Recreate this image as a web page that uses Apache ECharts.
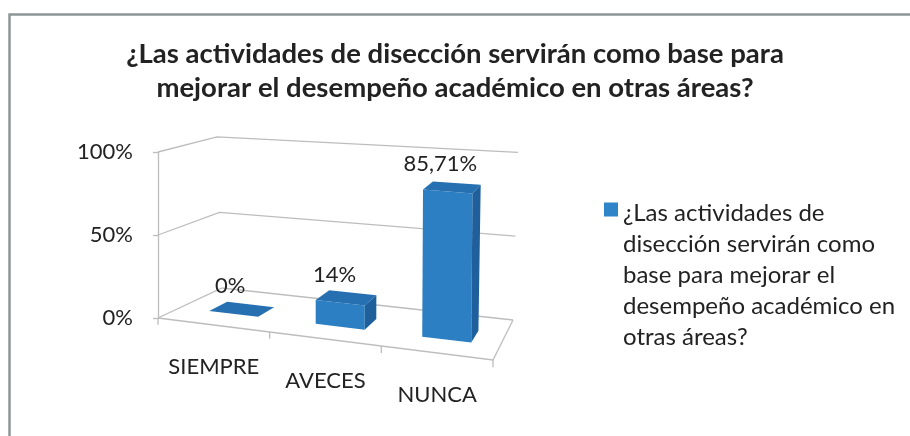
<!DOCTYPE html>
<html>
<head>
<meta charset="utf-8">
<title>Disección</title>
<script src="https://cdn.jsdelivr.net/npm/echarts@6/dist/echarts.min.js"></script>
<style>
  html, body { margin: 0; padding: 0; background: #fff; }
  #chart { width: 910px; height: 436px; }
</style>
</head>
<body>
<div id="chart"></div>
<script>
// datos
var categories = ['SIEMPRE', 'AVECES', 'NUNCA'];
var values = [0, 14.29, 85.71];
var valueLabels = ['0%', '14%', '85,71%'];
var yTicks = [0, 50, 100];
var yTickLabels = ['0%', '50%', '100%'];
var seriesName = '¿Las actividades de disección servirán como base para mejorar el desempeño académico en otras áreas?';
var legendLines = ['¿Las actividades de', 'disección servirán como', 'base para mejorar el', 'desempeño académico en', 'otras áreas?'];

// perspectiva 3D (estilo Excel)
var view = {
  drop: 42,             // el borde frontal del piso baja a la derecha
  depthL: [64, -30],    // profundidad del piso a la izquierda
  depthR: [20, -40],    // profundidad del piso a la derecha
  grow: [1, 1.08, 0.91, 1.01],  // alto relativo: frente-izq, frente-der, fondo-izq, fondo-der
  lean: [0, 0, -5, 5]
};
var gray = '#bdbdbd';
var font = 'Lato, "Open Sans", sans-serif';
var lineH = 31;

function lerp(a, b, t) {
  return [a[0] + (b[0] - a[0]) * t, a[1] + (b[1] - a[1]) * t];
}

// devuelve proj(i, f, v, d): categoria i (+ fraccion f de la banda), valor v, profundidad d (0 frente, 1 fondo)
function makeProj(api) {
  var n = categories.length;
  var band = api.size([1, 0])[0];
  var base = api.coord([0, 0]);
  var left = base[0] - band / 2;
  var W = band * n;
  var y0 = base[1];
  var H = y0 - api.coord([0, 100])[1];
  var FL = [left, y0], FR = [left + W, y0 + view.drop];
  var BL = [FL[0] + view.depthL[0], FL[1] + view.depthL[1]];
  var BR = [FR[0] + view.depthR[0], FR[1] + view.depthR[1]];
  var up = view.grow.map(function (g, k) { return [view.lean[k], -H * g]; });
  return function (i, f, v, d) {
    var c = api.coord([i, v]);
    var u = (c[0] + f * band - left) / W;
    var h = (y0 - c[1]) / H;
    var p = lerp(lerp(FL, FR, u), lerp(BL, BR, u), d);
    var q = lerp(lerp(up[0], up[1], u), lerp(up[2], up[3], u), d);
    return [p[0] + q[0] * h, p[1] + q[1] * h];
  };
}

function line(points) {
  return {
    type: 'polyline',
    shape: { points: points },
    style: { stroke: gray, lineWidth: 1.3, fill: null }
  };
}

// paredes, piso y lineas de division
function renderFrame(params, api) {
  var proj = makeProj(api);
  var n = categories.length;
  var kids = [];
  yTicks.forEach(function (t) {
    kids.push(line([proj(0, -0.5, t, 0), proj(0, -0.5, t, 1), proj(n - 1, 0.5, t, 1)]));
  });
  kids.push(line([proj(0, -0.5, 0, 0), proj(n - 1, 0.5, 0, 0), proj(n - 1, 0.5, 0, 1)]));
  for (var i = 0; i <= n; i++) {
    var ci = Math.min(i, n - 1), f = i < n ? -0.5 : 0.5;
    kids.push(line([proj(ci, f, 0, 0), proj(ci, f, -4, 0)]));
  }
  return { type: 'group', children: kids };
}

// columnas 3D
function renderBar(params, api) {
  var proj = makeProj(api);
  var i = api.value(0), v = api.value(1);
  var hw = 0.23, d0 = 0.35, d1 = 0.65;
  var fbl = proj(i, -hw, 0, d0), fbr = proj(i, hw, 0, d0);
  var ftl = proj(i, -hw, v, d0), ftr = proj(i, hw, v, d0);
  var bbr = proj(i, hw, 0, d1);
  var btl = proj(i, -hw, v, d1), btr = proj(i, hw, v, d1);
  var top = proj(i, 0, v, 0.5);
  var cat = proj(i, 0, 0, 0);
  return {
    type: 'group',
    children: [
      { type: 'polygon', shape: { points: [fbl, fbr, ftr, ftl] }, style: { fill: '#2b7fc2' } },
      { type: 'polygon', shape: { points: [fbr, bbr, btr, ftr] }, style: { fill: '#1e5f9c' } },
      { type: 'polygon', shape: { points: [ftl, ftr, btr, btl] }, style: { fill: '#2670b2' } },
      {
        type: 'text',
        style: {
          text: valueLabels[params.dataIndex], x: top[0] - 12, y: top[1] - 12,
          align: 'center', verticalAlign: 'bottom',
          font: '22px ' + font, fill: '#222'
        }
      },
      {
        type: 'text',
        style: {
          text: categories[params.dataIndex], x: cat[0], y: cat[1] + 42,
          align: 'center', verticalAlign: 'middle',
          font: '22px ' + font, fill: '#222'
        }
      }
    ]
  };
}

var chart = echarts.init(document.getElementById('chart'));
var option = {
  animation: false,
  backgroundColor: '#fff',
  title: {
    text: '¿Las actividades de disección servirán como base para\nmejorar el desempeño académico en otras áreas?',
    left: 'center',
    top: 32,
    textStyle: { fontFamily: font, fontWeight: 'bold', fontSize: 27.5, lineHeight: 34, color: '#222' }
  },
  graphic: [{
    type: 'rect',
    left: 7, top: 12,
    shape: { width: 920, height: 440 },
    style: { fill: null, stroke: '#8e9595', lineWidth: 2.5 },
    silent: true
  }],
  legend: {
    orient: 'vertical',
    left: 604,
    top: 198,
    padding: 0,
    itemWidth: 14,
    itemHeight: lineH * legendLines.length,
    // cuadro alineado con la primera linea del texto
    icon: 'path://M0,9L14,9L14,23L0,23Z M14,155L14,155Z',
    data: [seriesName],
    formatter: function () { return legendLines.join('\n'); },
    textStyle: { fontFamily: font, fontSize: 24, lineHeight: lineH, color: '#222' }
  },
  grid: { left: 158, top: 152, width: 335, height: 166 },
  xAxis: {
    type: 'category',
    data: categories,
    show: false
  },
  yAxis: {
    type: 'value',
    min: 0, max: 100, interval: 50,
    axisLine: { show: true, lineStyle: { color: gray, width: 1.3 } },
    axisTick: { show: true, length: 5, lineStyle: { color: gray, width: 1.3 } },
    splitLine: { show: false },
    axisLabel: {
      margin: 25,
      fontFamily: font, fontSize: 22, color: '#222',
      formatter: function (val) { return yTickLabels[yTicks.indexOf(val)]; }
    }
  },
  series: [
    {
      type: 'custom',
      silent: true,
      z: 1,
      renderItem: renderFrame,
      data: [[0, 0]]
    },
    {
      name: seriesName,
      type: 'custom',
      z: 2,
      itemStyle: { color: '#2e86c8' },
      renderItem: renderBar,
      data: values.map(function (v, i) { return [i, v]; })
    }
  ]
};
chart.setOption(option);
</script>
</body>
</html>
